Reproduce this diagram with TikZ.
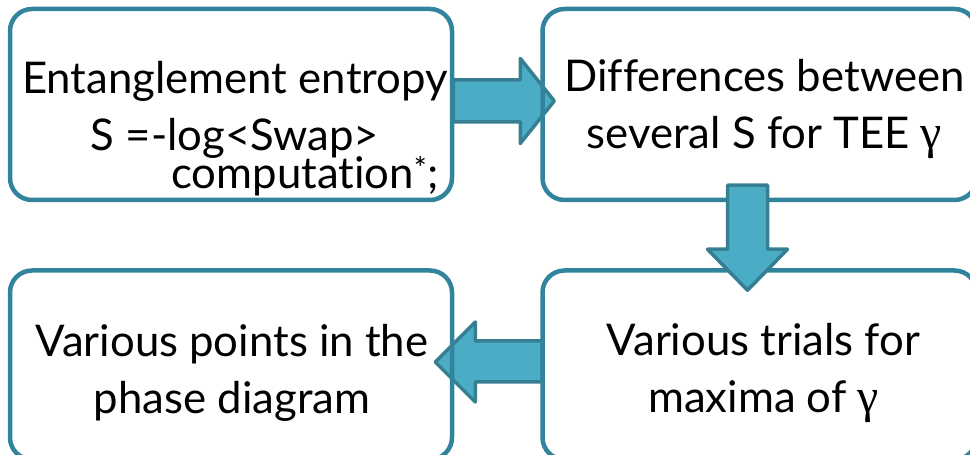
\documentclass[tikz,border=0pt]{standalone}
\usepackage{fontspec}
\setmainfont{Lato}[Ligatures=CommonOff]
\newfontfamily\grfont{Liberation Serif}
\usetikzlibrary{positioning,calc,backgrounds}
\definecolor{boxline}{HTML}{31849B}
\definecolor{arrowfill}{HTML}{4BACC6}
\definecolor{arrowline}{HTML}{367F92}
\newcommand{\gam}{{\grfont\fontsize{48}{57}\selectfont γ}}

\begin{document}
\begin{tikzpicture}[x=1pt,y=1pt,
  box/.style={draw=boxline,line width=4.5pt,rounded corners=22pt,inner sep=0pt},
  boxtext/.style={align=center,font=\fontsize{43.7}{57}\selectfont,inner sep=0pt},
  blockarrow/.style={fill=arrowfill,draw=arrowline,line width=3.5pt,line join=round}]
  \useasboundingbox (0,0) rectangle (970,455);
  % the four steps
  \node[box,minimum width=442pt,minimum height=191pt] (ent) at (231,350.5) {};
  \node[box,minimum width=434pt,minimum height=191pt,right=86pt of ent] (dif) {};
  \node[box,minimum width=442pt,minimum height=189pt,below=66pt of ent] (ph) {};
  \node[box,minimum width=434pt,minimum height=189pt,below=66pt of dif] (max) {};
  \node[boxtext] (enttxt) at ($(ent.center)+(4,-24)$)
    {Entanglement entropy\\S =-log<Swap>\\[-19pt]\hspace*{140pt}computation\textsuperscript{*};};
  \node[boxtext] (diftxt) at ($(dif.center)+(5,-5)$) {Differences between\\several S for TEE \gam};
  \node[boxtext] (phtxt) at ($(ph.center)+(1,-8)$) {Various points in the\\phase diagram};
  \node[boxtext] (maxtxt) at ($(max.center)+(4,-8)$) {Various trials for\\maxima of \gam};
  % block arrows
  \begin{scope}[on background layer]
    \draw[blockarrow] ($(ent.east)+(-1,24.5)$) -- ($(dif.west)+(-20,24.5)$) -- ($(dif.west)+(-20,46)$)
      -- ($(dif.west)+(14,3.5)$) -- ($(dif.west)+(-20,-39)$) -- ($(dif.west)+(-20,-17.5)$)
      -- ($(ent.east)+(-1,-17.5)$) -- cycle;
    \draw[blockarrow] ($(max.west)+(2,24)$) -- ($(ph.east)+(21,24)$) -- ($(ph.east)+(21,43)$)
      -- ($(ph.east)+(-19,3)$) -- ($(ph.east)+(21,-37)$) -- ($(ph.east)+(21,-17)$)
      -- ($(max.west)+(2,-17)$) -- cycle;
  \end{scope}
  \draw[blockarrow] ($(dif.south)+(-32,17)$) -- ($(max.north)+(-32,19)$) -- ($(max.north)+(-52,19)$)
    -- ($(max.north)+(-12,-22)$) -- ($(max.north)+(28,19)$) -- ($(max.north)+(8,19)$)
    -- ($(dif.south)+(8,17)$) -- cycle;
\end{tikzpicture}
\end{document}
